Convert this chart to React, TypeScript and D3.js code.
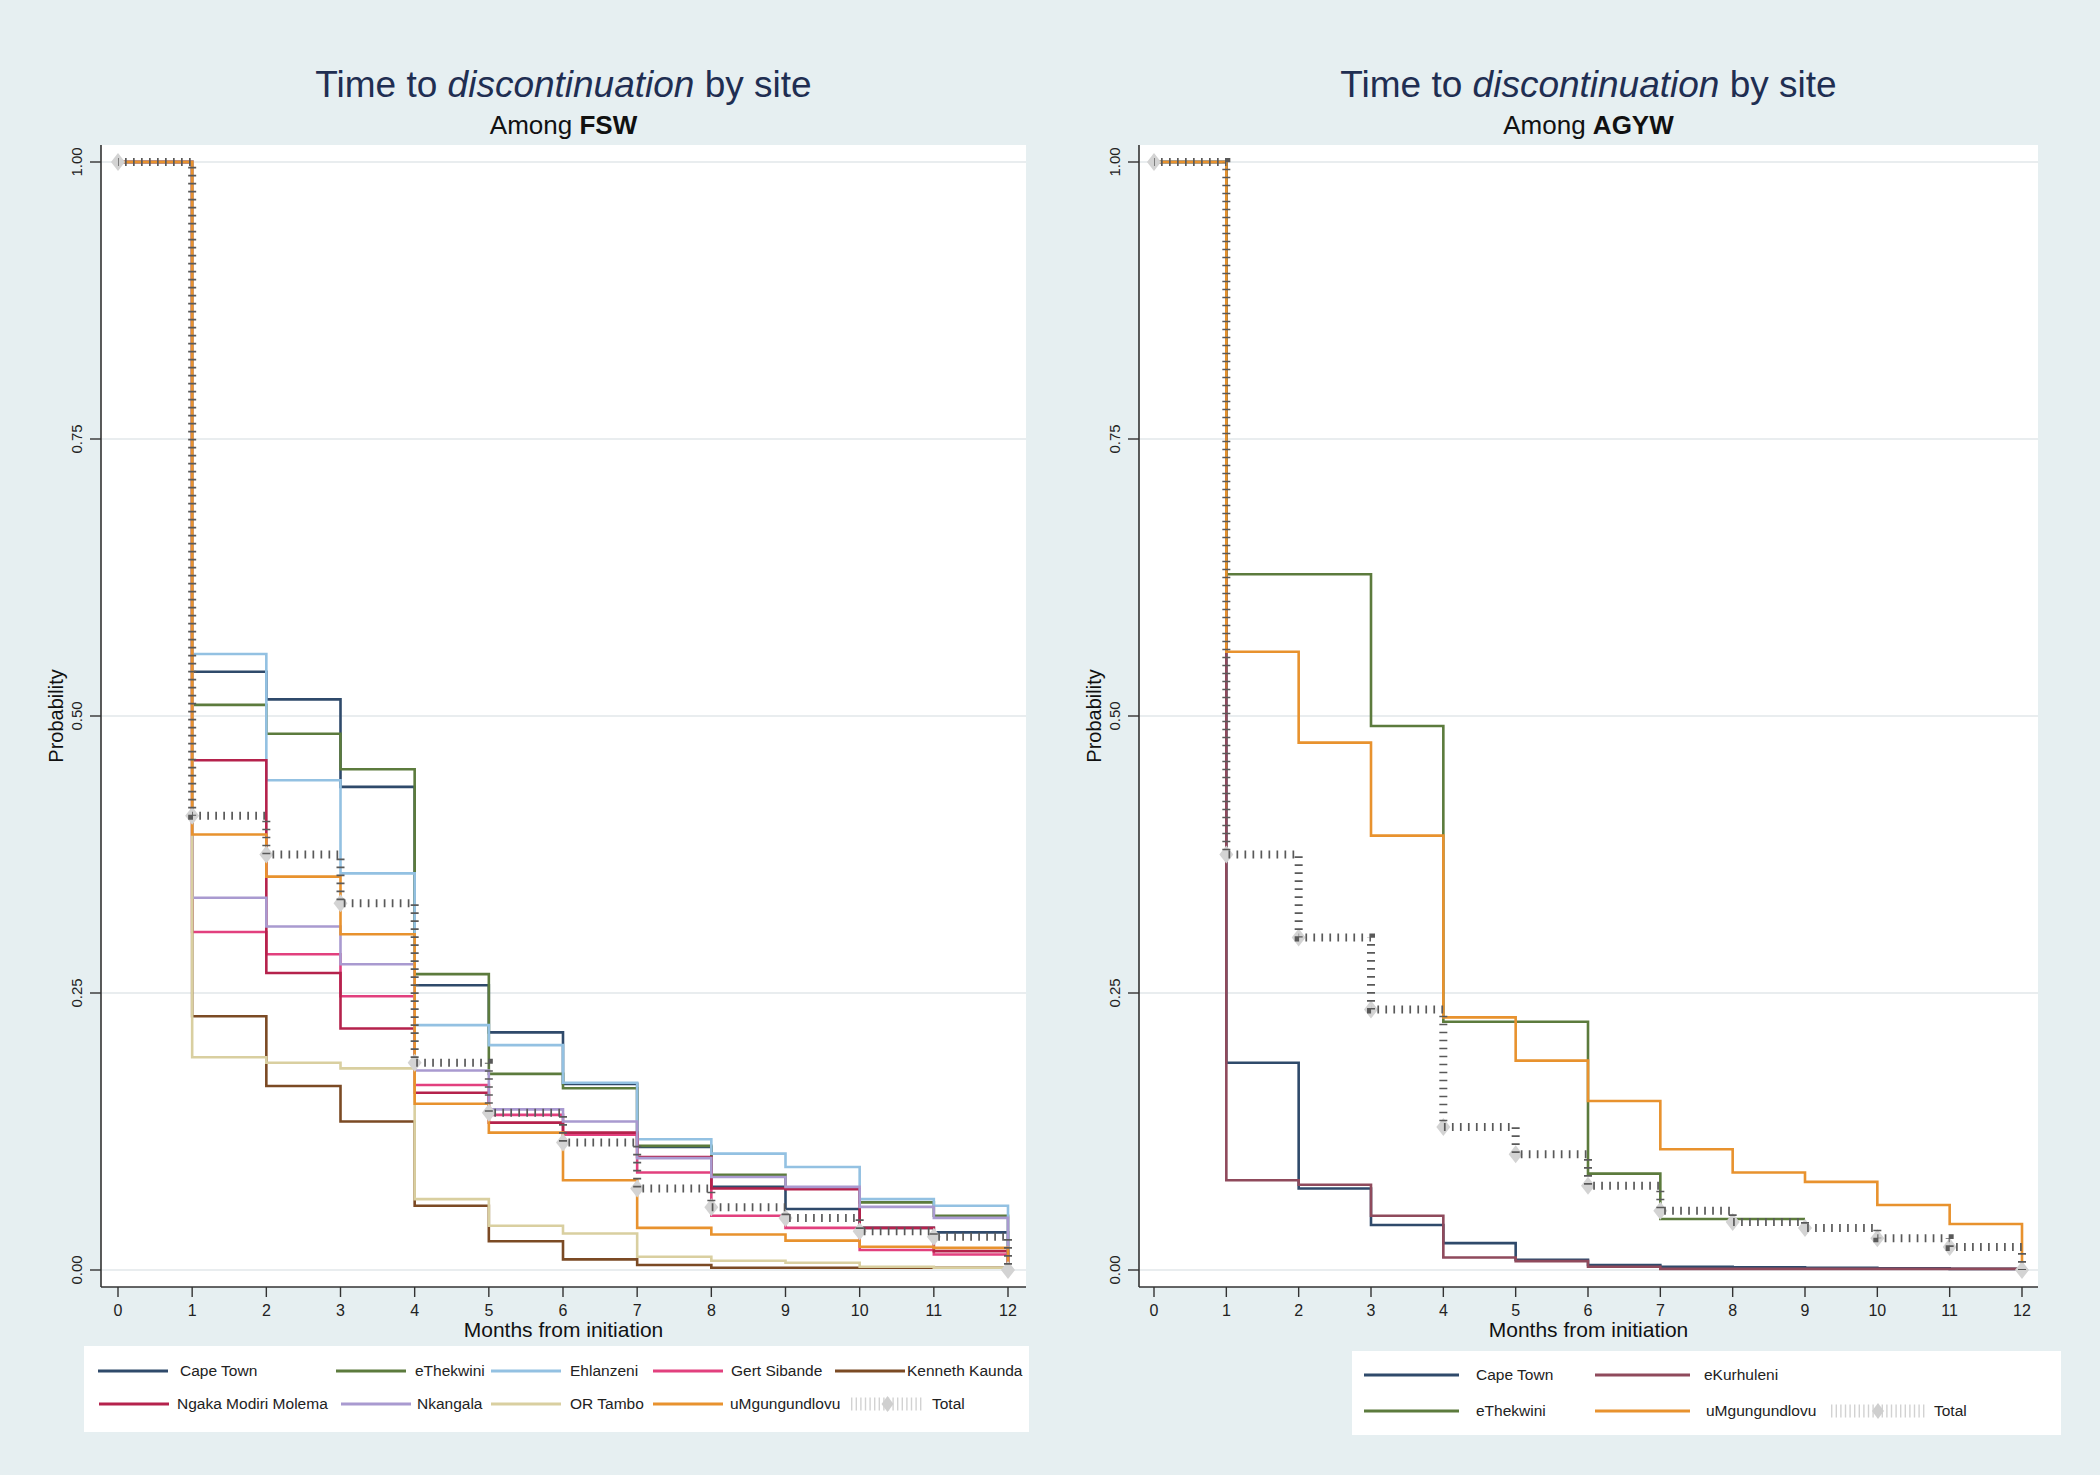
import React from 'react';
import * as d3 from 'd3';

// months 0..12, value = survival probability on [m, m+1)
const months = [0, 1, 2, 3, 4, 5, 6, 7, 8, 9, 10, 11, 12];
const yTicks = [0, 0.25, 0.5, 0.75, 1];
const yTickLabels = ['0.00', '0.25', '0.50', '0.75', '1.00'];

// FSW panel
const fswCapeTown = [1, 0.54, 0.515, 0.436, 0.257, 0.2145, 0.168, 0.111, 0.075, 0.055, 0.038, 0.034, 0];
const fswEThekwini = [1, 0.51, 0.484, 0.452, 0.267, 0.177, 0.164, 0.112, 0.086, 0.074, 0.061, 0.049, 0];
const fswEhlanzeni = [1, 0.556, 0.442, 0.358, 0.221, 0.203, 0.169, 0.118, 0.105, 0.093, 0.064, 0.058, 0];
const fswGertSibande = [1, 0.305, 0.285, 0.247, 0.167, 0.14, 0.122, 0.088, 0.049, 0.038, 0.018, 0.014, 0];
const fswKennethKaunda = [1, 0.229, 0.166, 0.134, 0.058, 0.026, 0.0096, 0.0045, 0.002, 0.002, 0.002, 0.002, 0];
const fswNgaka = [1, 0.46, 0.268, 0.218, 0.16, 0.133, 0.124, 0.102, 0.0735, 0.073, 0.038, 0.017, 0];
const fswNkangala = [1, 0.336, 0.31, 0.276, 0.18, 0.145, 0.134, 0.101, 0.084, 0.075, 0.057, 0.047, 0];
const fswORTambo = [1, 0.192, 0.187, 0.182, 0.064, 0.04, 0.033, 0.012, 0.0084, 0.0066, 0.003, 0.002, 0];
const fswUMgungundlovu = [1, 0.393, 0.355, 0.303, 0.15, 0.124, 0.081, 0.038, 0.032, 0.0265, 0.021, 0.02, 0];
const fswTotal = [1, 0.41, 0.375, 0.331, 0.187, 0.142, 0.115, 0.0735, 0.0566, 0.047, 0.035, 0.03, 0];

// AGYW panel
const agywCapeTown = [1, 0.187, 0.0735, 0.0406, 0.0243, 0.0092, 0.0045, 0.003, 0.0025, 0.002, 0.0015, 0.001, 0];
const agywEKurhuleni = [1, 0.081, 0.077, 0.049, 0.0113, 0.008, 0.003, 0.001, 0.001, 0.001, 0.001, 0.001, 0];
const agywEThekwini = [1, 0.628, 0.628, 0.491, 0.224, 0.224, 0.087, 0.046, 0.046, 0.046];
const agywUMgungundlovu = [1, 0.558, 0.476, 0.392, 0.228, 0.189, 0.1525, 0.109, 0.088, 0.0795, 0.0587, 0.0415, 0];
const agywTotal = [1, 0.375, 0.3, 0.235, 0.129, 0.1045, 0.076, 0.0534, 0.0434, 0.038, 0.0286, 0.0208, 0];

const colors = {
  capeTown: '#2f4a6b',
  eThekwini: '#5c7b3d',
  ehlanzeni: '#93c1e2',
  gertSibande: '#e2407e',
  kennethKaunda: '#7b4a24',
  ngaka: '#b5224c',
  nkangala: '#a99ad0',
  orTambo: '#d9cfa0',
  uMgungundlovu: '#e8922e',
  eKurhuleni: '#8f4a5c',
};

const FONT = '"Liberation Sans", Arial, Helvetica, sans-serif';
const BG = '#e6eff1';

const fswSites = [
  { name: 'Cape Town', color: colors.capeTown, values: fswCapeTown, lx: 98, tx: 180, row: 0 },
  { name: 'eThekwini', color: colors.eThekwini, values: fswEThekwini, lx: 336, tx: 415, row: 0 },
  { name: 'Ehlanzeni', color: colors.ehlanzeni, values: fswEhlanzeni, lx: 491, tx: 570, row: 0 },
  { name: 'Gert Sibande', color: colors.gertSibande, values: fswGertSibande, lx: 653, tx: 731, row: 0 },
  { name: 'Kenneth Kaunda', color: colors.kennethKaunda, values: fswKennethKaunda, lx: 835, tx: 907, row: 0 },
  { name: 'Ngaka Modiri Molema', color: colors.ngaka, values: fswNgaka, lx: 99, tx: 177, row: 1 },
  { name: 'Nkangala', color: colors.nkangala, values: fswNkangala, lx: 341, tx: 417, row: 1 },
  { name: 'OR Tambo', color: colors.orTambo, values: fswORTambo, lx: 491, tx: 570, row: 1 },
  { name: 'uMgungundlovu', color: colors.uMgungundlovu, values: fswUMgungundlovu, lx: 653, tx: 730, row: 1 },
];

const agywSites = [
  { name: 'Cape Town', color: colors.capeTown, values: agywCapeTown, lx: 1364, tx: 1476, row: 0 },
  { name: 'eKurhuleni', color: colors.eKurhuleni, values: agywEKurhuleni, lx: 1595, tx: 1704, row: 0 },
  { name: 'eThekwini', color: colors.eThekwini, values: agywEThekwini, lx: 1364, tx: 1476, row: 1 },
  { name: 'uMgungundlovu', color: colors.uMgungundlovu, values: agywUMgungundlovu, lx: 1595, tx: 1706, row: 1 },
];

const Panel = ({ cfg }) => {
  const { axisX, plotRight, x0, x12, group, sites, total, legend } = cfg;
  const plotTop = 145;
  const axisY = 1287;
  const x = d3.scaleLinear().domain([0, 12]).range([x0, x12]);
  const y = d3.scaleLinear().domain([0, 1]).range([1270, 162]);
  const line = d3
    .line<number>()
    .x((d, i) => x(months[i]))
    .y((d) => y(d))
    .curve(d3.curveStepAfter);
  const cx = (axisX + plotRight) / 2;

  const diamond = (px, py, w, h) => `M${px - w},${py}L${px},${py - h}L${px + w},${py}L${px},${py + h}Z`;

  return (
    <g>
      {/* titles */}
      <text x={cx} y={97} textAnchor="middle" fontSize={37} fill="#1f2e52">
        Time to <tspan fontStyle="italic">discontinuation</tspan> by site
      </text>
      <text x={cx} y={134} textAnchor="middle" fontSize={26} fill="#111">
        Among <tspan fontWeight="bold">{group}</tspan>
      </text>

      {/* plot area */}
      <rect x={axisX} y={plotTop} width={plotRight - axisX} height={axisY - plotTop} fill="#fff" />
      {yTicks.map((t) => (
        <line key={t} x1={axisX} x2={plotRight} y1={y(t)} y2={y(t)} stroke="#e9edef" strokeWidth={2} />
      ))}

      {/* site curves */}
      {sites.map((s) => (
        <path key={s.name} d={line(s.values)} fill="none" stroke={s.color} strokeWidth={2.6} />
      ))}

      {/* total: diamonds + hatched line */}
      {total.map((v, i) => (
        <path key={i} d={diamond(x(months[i]), y(v), 7, 9)} fill="#d3d3d3" />
      ))}
      <path d={line(total)} fill="none" stroke="#595959" strokeWidth={8} strokeDasharray="1.7 6.3" strokeDashoffset={-7} />

      {/* axes */}
      <line x1={axisX} x2={axisX} y1={plotTop} y2={axisY} stroke="#333" strokeWidth={1.6} />
      <line x1={axisX} x2={plotRight} y1={axisY} y2={axisY} stroke="#333" strokeWidth={1.6} />
      {yTicks.map((t, i) => (
        <g key={t}>
          <line x1={axisX - 11} x2={axisX} y1={y(t)} y2={y(t)} stroke="#333" strokeWidth={1.4} />
          <text
            transform={`translate(${axisX - 19},${y(t)}) rotate(-90)`}
            textAnchor="middle"
            fontSize={15}
            fill="#222"
          >
            {yTickLabels[i]}
          </text>
        </g>
      ))}
      <text transform={`translate(${axisX - 38},${y(0.5)}) rotate(-90)`} textAnchor="middle" fontSize={20} fill="#111">
        Probability
      </text>
      {months.map((m) => (
        <g key={m}>
          <line x1={x(m)} x2={x(m)} y1={axisY} y2={axisY + 10} stroke="#333" strokeWidth={1.4} />
          <text x={x(m)} y={1316} textAnchor="middle" fontSize={16} fill="#222">
            {m}
          </text>
        </g>
      ))}
      <text x={cx} y={1337} textAnchor="middle" fontSize={21} fill="#111">
        Months from initiation
      </text>

      {/* legend */}
      <rect x={legend.x} y={legend.y} width={legend.w} height={legend.h} fill="#fff" />
      {sites.map((s) => (
        <g key={s.name}>
          <line
            x1={s.lx}
            x2={s.lx + legend.keyLen}
            y1={legend.rows[s.row]}
            y2={legend.rows[s.row]}
            stroke={s.color}
            strokeWidth={3}
          />
          <text x={s.tx} y={legend.rows[s.row] + 5} fontSize={15.5} fill="#222">
            {s.name}
          </text>
        </g>
      ))}
      <line
        x1={legend.totalLx}
        x2={legend.totalLx + legend.totalLen}
        y1={legend.rows[1]}
        y2={legend.rows[1]}
        stroke="#d2d2d2"
        strokeWidth={13}
        strokeDasharray="1.4 3.2"
      />
      <path
        d={diamond(legend.totalLx + legend.totalLen / 2, legend.rows[1], 6, 8)}
        fill="#cfcfcf"
      />
      <text x={legend.totalTx} y={legend.rows[1] + 5} fontSize={15.5} fill="#222">
        Total
      </text>
    </g>
  );
};

const leftCfg = {
  axisX: 101,
  plotRight: 1026,
  x0: 118,
  x12: 1008,
  group: 'FSW',
  sites: fswSites,
  total: fswTotal,
  legend: { x: 84, y: 1346, w: 945, h: 86, rows: [1371, 1404], keyLen: 70, totalLx: 851, totalLen: 73, totalTx: 932 },
};

const rightCfg = {
  axisX: 1139,
  plotRight: 2038,
  x0: 1154,
  x12: 2022,
  group: 'AGYW',
  sites: agywSites,
  total: agywTotal,
  legend: { x: 1352, y: 1351, w: 709, h: 84, rows: [1375, 1411], keyLen: 95, totalLx: 1831, totalLen: 94, totalTx: 1934 },
};

export default function App() {
  return (
    <svg
      width={2100}
      height={1475}
      style={{ position: 'absolute', left: 0, top: 0, fontFamily: FONT }}
      fontFamily={FONT}
    >
      <rect width={2100} height={1475} fill={BG} />
      <Panel cfg={leftCfg} />
      <Panel cfg={rightCfg} />
    </svg>
  );
}
